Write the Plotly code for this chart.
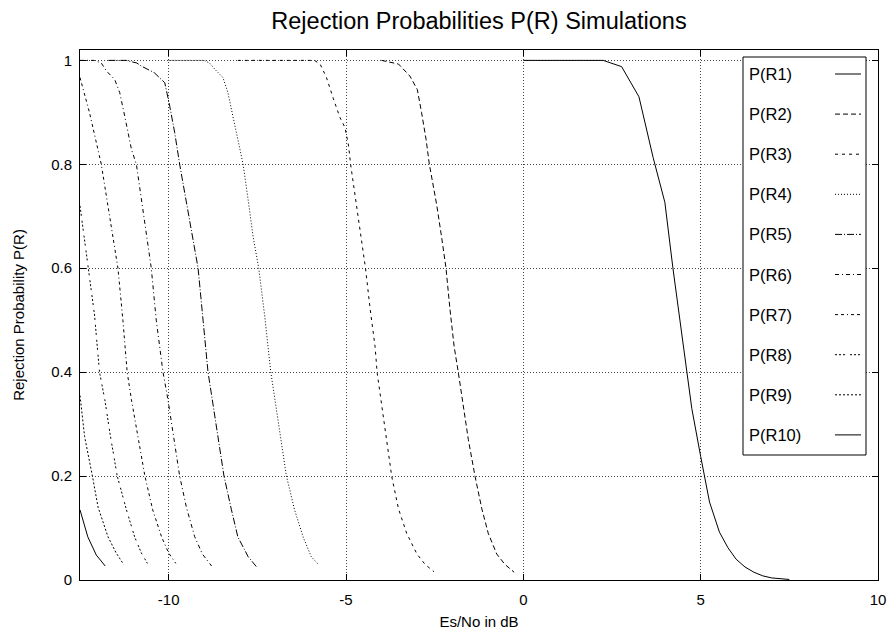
import plotly.graph_objects as go

# ---------------- data ----------------
series_names = ["P(R1)", "P(R2)", "P(R3)", "P(R4)", "P(R5)",
                "P(R6)", "P(R7)", "P(R8)", "P(R9)", "P(R10)"]

x_r1 = [0.0, 0.5, 1.0, 1.5, 2.0, 2.25, 2.77, 3.26, 3.66, 3.99, 4.22, 4.5, 4.75,
        5.0, 5.25, 5.53, 5.77, 6.0, 6.25, 6.5, 6.75, 7.0, 7.25, 7.5]
y_r1 = [1.0, 1.0, 1.0, 1.0, 1.0, 1.0, 0.988, 0.93, 0.813, 0.727, 0.599, 0.455, 0.33,
        0.238, 0.15, 0.092, 0.062, 0.04, 0.025, 0.015, 0.008, 0.004, 0.002, 0.001]

x_r2 = [-4.0, -3.52, -3.2, -2.99, -2.87, -2.74, -2.65, -2.44, -2.3, -2.18, -2.07,
        -1.95, -1.83, -1.69, -1.55, -1.36, -1.17, -0.99, -0.75, -0.52, -0.26]
y_r2 = [1.0, 0.993, 0.97, 0.944, 0.9, 0.847, 0.8, 0.721, 0.658, 0.6, 0.522,
        0.449, 0.398, 0.336, 0.27, 0.199, 0.137, 0.09, 0.05, 0.03, 0.015]

x_r3 = [-8.05, -7.0, -6.0, -5.89, -5.73, -5.55, -5.36, -5.17, -5.03, -4.93, -4.87,
        -4.7, -4.56, -4.45, -4.32, -4.18, -4.12, -3.99, -3.87, -3.71, -3.52,
        -3.29, -3.0, -2.77, -2.52]
y_r3 = [1.0, 1.0, 1.0, 1.0, 0.993, 0.967, 0.927, 0.89, 0.871, 0.837, 0.8,
        0.721, 0.658, 0.6, 0.522, 0.449, 0.398, 0.336, 0.27, 0.199, 0.137,
        0.09, 0.05, 0.03, 0.016]

x_r4 = [-10.0, -9.5, -9.0, -8.85, -8.7, -8.47, -8.33, -8.19, -8.05, -7.9, -7.76,
        -7.62, -7.46, -7.29, -7.12, -6.9, -6.68, -6.45, -6.21, -5.98, -5.77]
y_r4 = [1.0, 1.0, 1.0, 0.995, 0.983, 0.967, 0.938, 0.893, 0.848, 0.8, 0.732,
        0.661, 0.6, 0.507, 0.4, 0.3, 0.2, 0.135, 0.083, 0.045, 0.029]

x_r5 = [-11.7, -11.2, -10.9, -10.77, -10.4, -10.11, -9.97, -9.83, -9.69, -9.5,
        -9.32, -9.17, -9.03, -8.89, -8.77, -8.44, -8.23, -8.05, -7.76, -7.53]
y_r5 = [1.0, 1.0, 0.995, 0.989, 0.976, 0.957, 0.912, 0.861, 0.8, 0.726,
        0.655, 0.6, 0.5, 0.4, 0.347, 0.2, 0.135, 0.083, 0.045, 0.026]

x_r6 = [-12.5, -12.1, -11.9, -11.76, -11.52, -11.38, -11.24, -11.05, -10.91, -10.77,
        -10.63, -10.49, -10.35, -10.16, -10.02, -9.69, -9.5, -9.27, -9.05, -8.79]
y_r6 = [1.0, 1.0, 0.995, 0.98, 0.963, 0.938, 0.893, 0.829, 0.8, 0.73,
        0.66, 0.6, 0.5, 0.4, 0.347, 0.2, 0.14, 0.084, 0.05, 0.027]

x_r7 = [-12.5, -12.23, -11.9, -11.67, -11.43, -11.29, -11.17, -11.05, -10.88,
        -10.67, -10.45, -10.2, -10.0, -9.8]
y_r7 = [0.967, 0.899, 0.8, 0.7, 0.6, 0.5, 0.4, 0.347, 0.28,
        0.2, 0.135, 0.083, 0.052, 0.032]

x_r8 = [-12.5, -12.28, -12.09, -11.95, -11.8, -11.65, -11.45, -11.19, -10.96,
        -10.77, -10.6]
y_r8 = [0.72, 0.61, 0.51, 0.4, 0.347, 0.28, 0.2, 0.135, 0.083, 0.052, 0.032]

x_r9 = [-12.5, -12.37, -12.15, -11.99, -11.71, -11.48, -11.27]
y_r9 = [0.355, 0.276, 0.2, 0.14, 0.083, 0.052, 0.03]

x_r10 = [-12.5, -12.28, -12.04, -11.79]
y_r10 = [0.135, 0.083, 0.048, 0.027]

x_tick_vals = [-10, -5, 0, 5, 10]
y_tick_vals = [0, 0.2, 0.4, 0.6, 0.8, 1]
y_tick_text = ["0", "0.2", "0.4", "0.6", "0.8", "1"]

xs = [x_r1, x_r2, x_r3, x_r4, x_r5, x_r6, x_r7, x_r8, x_r9, x_r10]
ys = [y_r1, y_r2, y_r3, y_r4, y_r5, y_r6, y_r7, y_r8, y_r9, y_r10]

# ---------------- styles ----------------
dashes = ["solid", "5px,3px", "3px,4px", "1px,2px", "7px,2px,1px,2px",
          "4px,3px,1px,3px", "3px,3px,3px,3px,1px,3px", "2px,2px,2px,2px,2px,5px",
          "2px,2px", "solid"]

FONT = "Liberation Sans, Arial, Helvetica, sans-serif"

fig = go.Figure()
for name, x, y, d in zip(series_names, xs, ys, dashes):
    fig.add_trace(go.Scatter(x=x, y=y, mode="lines", name=name,
                             line=dict(color="black", width=1, dash=d),
                             showlegend=False))

# ---------------- custom legend (text left, sample right) ----------------
L, R, T, B = 80, 878, 50, 580  # plot area in pixels
def px(xp):
    return (xp - L) / (R - L)
def py(yp):
    return (B - yp) / (B - T)

shapes = [dict(type="rect", xref="paper", yref="paper",
               x0=px(743), x1=px(866), y0=py(455), y1=py(57),
               line=dict(color="black", width=1), fillcolor="white", layer="above")]
annotations = []
for i, (name, d) in enumerate(zip(series_names, dashes)):
    yc = 74 + 40.1 * i
    annotations.append(dict(text=name, xref="paper", yref="paper",
                            x=px(747), y=py(yc), xanchor="left", yanchor="middle",
                            showarrow=False, font=dict(family=FONT, size=16.5, color="black")))
    shapes.append(dict(type="line", xref="paper", yref="paper",
                       x0=px(835), x1=px(861), y0=py(yc), y1=py(yc),
                       line=dict(color="black", width=1, dash=d), layer="above"))

fig.update_layout(
    width=888, height=630,
    margin=dict(l=L, r=888 - R, t=T, b=630 - B),
    paper_bgcolor="white", plot_bgcolor="white",
    font=dict(family=FONT, size=15, color="black"),
    title=dict(text="Rejection Probabilities P(R) Simulations",
               x=(L + R) / 2 / 888, xanchor="center", y=1 - 21 / 630, yanchor="middle",
               font=dict(family=FONT, size=23.5, color="black")),
    shapes=shapes, annotations=annotations,
    showlegend=False,
)
fig.update_xaxes(range=[-12.5, 10], tickvals=x_tick_vals, ticktext=[str(v) for v in x_tick_vals],
                 ticks="inside", ticklen=6, tickcolor="black",
                 showline=True, linecolor="black", linewidth=1, mirror="ticks",
                 showgrid=True, gridcolor="#444", griddash="1px,2px", gridwidth=1,
                 zeroline=False, ticklabelstandoff=6, automargin=False,
                 title=dict(text="Es/No in dB", standoff=10, font=dict(size=15)),
                 tickfont=dict(size=15))
fig.update_yaxes(range=[0, 1.02], tickvals=y_tick_vals, ticktext=y_tick_text,
                 ticks="inside", ticklen=6, tickcolor="black",
                 showline=True, linecolor="black", linewidth=1, mirror="ticks",
                 showgrid=True, gridcolor="#444", griddash="1px,2px", gridwidth=1,
                 zeroline=False, ticklabelstandoff=4, automargin=False,
                 title=dict(text="Rejection Probability P(R)", standoff=22, font=dict(size=15)),
                 tickfont=dict(size=15))

fig.write_html("out.html")
